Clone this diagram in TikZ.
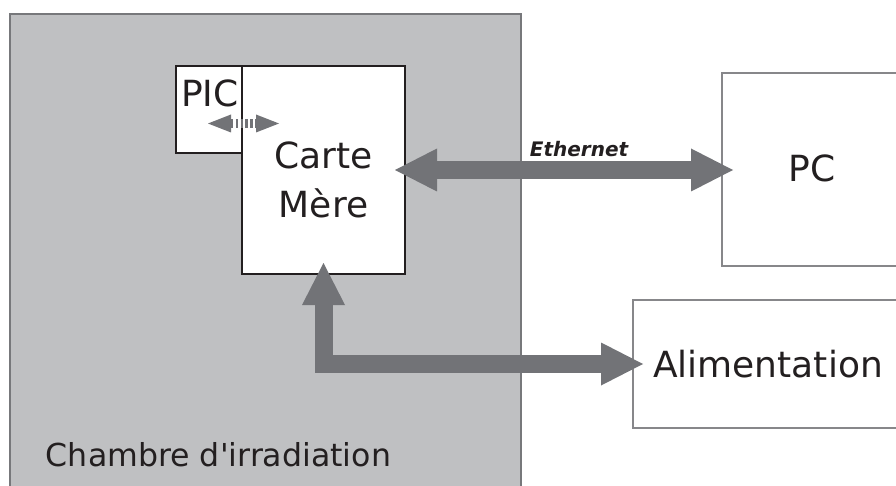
\documentclass[tikz,border=0pt]{standalone}
\usepackage{fontspec}
\setmainfont{DejaVu Sans}
\usetikzlibrary{arrows.meta}
\definecolor{chfill}{RGB}{191,192,194}
\definecolor{chline}{RGB}{119,120,123}
\definecolor{arr}{RGB}{114,115,119}
\definecolor{boxline}{RGB}{135,135,138}
\definecolor{dark}{RGB}{35,31,32}
\begin{document}
\begin{tikzpicture}[x=1pt,y=-1pt,
  box/.style={draw, rectangle, anchor=north west, inner sep=0pt, outer sep=0pt, line width=2pt},
  lbl/.style={inner sep=0pt, anchor=base, text=dark, font=\fontsize{36}{43}\selectfont},
  bigarrow/.style={draw=arr, line width=18pt, line join=miter,
    {Triangle[length=42pt,width=43pt,line width=0pt]}-{Triangle[length=42pt,width=43pt,line width=0pt]}},
  smallarrow/.style={draw=arr, line width=9pt, dash pattern=on 2.4pt off 2.4pt,
    {Triangle[length=23pt,width=18pt,line width=0pt]}-{Triangle[length=23pt,width=18pt,line width=0pt]}}
]
\useasboundingbox (0,0) rectangle (896,486);
% chamber
\node[box, draw=chline, fill=chfill, minimum width=511pt, minimum height=500pt] (chamber) at (10,14) {};
% right boxes
\node[box, draw=boxline, fill=white, minimum width=220pt, minimum height=193pt] (pc) at (722,73) {};
\node[box, draw=boxline, fill=white, minimum width=300pt, minimum height=128pt] (alim) at (633,300) {};
% carte and pic
\node[box, draw=dark, fill=white, minimum width=163pt, minimum height=208pt] (carte) at (242,66) {};
\node[box, draw=dark, fill=white, minimum width=66pt, minimum height=87pt] (pic) at (176,66) {};
% labels
\node[lbl] (piclbl) at (210,107) {PIC};
\node[lbl] (cartelbl) at (323.5,169) {Carte};
\node[lbl] (merelbl) at (323.5,218) {Mère};
\node[lbl] (pclbl) at (812,182) {PC};
\node[lbl] (alimlbl) at (768,377) {Alimentation};
\node[lbl, font=\fontsize{31.6}{38}\selectfont] (chlbl) at (218.5,466) {Chambre d\textquotesingle irradiation};
\node[lbl, font=\fontsize{20}{24}\selectfont\bfseries\itshape] (ethlbl) at (579,157) {Ethernet};
% connectors
\draw[bigarrow, shorten <=-10pt, shorten >=-11pt] (carte.east) -- (carte.east -| pc.west);
\draw[bigarrow, shorten <=-11pt, shorten >=-10pt] (carte.south) |- (alim.west);
\coordinate (pl) at (208,123.5);
\coordinate (pr) at (279,123.5);
\draw[smallarrow] (pl) -- (pr);
\end{tikzpicture}
\end{document}
